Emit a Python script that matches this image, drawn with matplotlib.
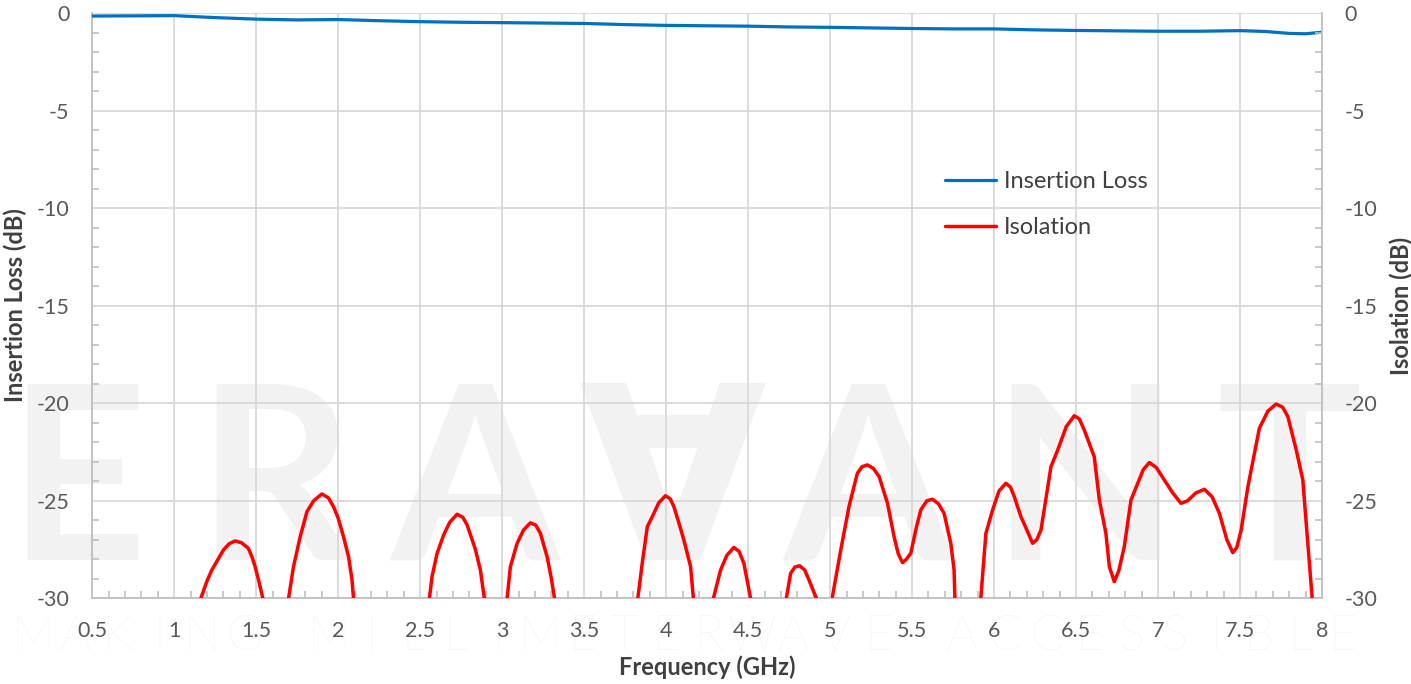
import numpy as np
import matplotlib
matplotlib.use('Agg')
import matplotlib.pyplot as plt
from matplotlib.ticker import MultipleLocator

plt.rcParams['font.family'] = ['Lato', 'DejaVu Sans']
plt.rcParams['axes.unicode_minus'] = False

# Insertion loss (dB) vs frequency (GHz)
il_freq = [0.5, 0.75, 1.0, 1.25, 1.5, 1.75, 2.0, 2.25, 2.5, 2.75, 3.0, 3.25, 3.5,
           3.75, 4.0, 4.25, 4.5, 4.75, 5.0, 5.25, 5.5, 5.75, 6.0, 6.25, 6.5, 6.75,
           7.0, 7.25, 7.5, 7.65, 7.8, 7.9, 8.0]
il_db = [-0.14, -0.13, -0.12, -0.22, -0.30, -0.34, -0.32, -0.38, -0.43, -0.46, -0.48,
         -0.50, -0.52, -0.58, -0.62, -0.64, -0.66, -0.70, -0.72, -0.75, -0.78, -0.80,
         -0.80, -0.85, -0.88, -0.90, -0.92, -0.92, -0.89, -0.93, -1.03, -1.05, -0.97]

# Isolation (dB); NaN = below the -30 dB floor of the chart
iso_freq = [1.162, 1.20, 1.229, 1.26, 1.300, 1.335, 1.371, 1.41, 1.452, 1.475, 1.493, 1.515, 1.540, 1.62,
            1.697, 1.727, 1.768, 1.809, 1.85, 1.900, 1.94, 1.971, 2.00, 2.032, 2.063, 2.084, 2.093, 2.3,
            2.556, 2.572, 2.603, 2.643, 2.68, 2.725, 2.76, 2.786, 2.836, 2.867, 2.891, 2.96,
            3.030, 3.050, 3.091, 3.13, 3.172, 3.205, 3.233, 3.274, 3.30, 3.319, 3.6,
            3.827, 3.854, 3.885, 3.915, 3.955, 3.996, 4.025, 4.047, 4.08, 4.108, 4.149, 4.166, 4.23,
            4.288, 4.332, 4.37, 4.413, 4.445, 4.474, 4.515, 4.62,
            4.733, 4.759, 4.785, 4.814, 4.845, 4.871, 4.916, 4.96,
            5.014, 5.04, 5.065, 5.115, 5.166, 5.195, 5.228, 5.265, 5.299, 5.350, 5.390, 5.415,
            5.441, 5.465, 5.492, 5.525, 5.553, 5.59, 5.624, 5.66, 5.695, 5.736, 5.756, 5.761, 5.84,
            5.919, 5.950, 5.991, 6.03, 6.072, 6.10, 6.123, 6.164, 6.20, 6.235, 6.26, 6.286, 6.347,
            6.388, 6.44, 6.489, 6.52, 6.550, 6.611, 6.642, 6.682, 6.703, 6.733, 6.76, 6.794, 6.835,
            6.876, 6.91, 6.947, 6.99, 7.038, 7.09, 7.140, 7.18, 7.23, 7.283, 7.33, 7.374, 7.42,
            7.456, 7.48, 7.507, 7.548, 7.618, 7.67, 7.720, 7.76, 7.792, 7.843, 7.883, 7.904,
            7.924, 7.940]
iso_db = [-30.0, -29.1, -28.55, -28.1, -27.52, -27.2, -27.06, -27.15, -27.44, -27.9, -28.38, -29.1, -30.0, np.nan,
          -30.0, -28.38, -26.84, -25.56, -25.0, -24.65, -24.85, -25.30, -25.9, -26.84, -27.87, -29.06, -30.0, np.nan,
          -30.0, -28.89, -27.69, -26.75, -26.1, -25.69, -25.85, -26.24, -27.48, -28.55, -30.0, np.nan,
          -30.0, -28.38, -27.18, -26.5, -26.13, -26.25, -26.67, -27.87, -29.0, -30.0, np.nan,
          -30.0, -28.21, -26.33, -25.82, -25.1, -24.74, -24.9, -25.30, -26.2, -27.01, -28.38, -30.0, np.nan,
          -30.0, -28.55, -27.8, -27.39, -27.6, -28.21, -30.0, np.nan,
          -30.0, -28.72, -28.4, -28.33, -28.55, -29.06, -30.0, np.nan,
          -29.92, -28.7, -27.52, -25.30, -23.59, -23.25, -23.16, -23.35, -23.76, -25.13, -26.84, -27.7,
          -28.17, -28.0, -27.69, -26.4, -25.47, -25.0, -24.92, -25.15, -25.64, -27.18, -28.55, -30.0, np.nan,
          -30.0, -26.67, -25.47, -24.5, -24.10, -24.3, -24.78, -25.82, -26.5, -27.18, -27.0, -26.50, -23.25,
          -22.40, -21.2, -20.64, -20.8, -21.37, -22.74, -24.96, -26.67, -28.38, -29.15, -28.6, -27.36, -24.96,
          -24.10, -23.4, -23.04, -23.3, -23.93, -24.6, -25.13, -25.0, -24.6, -24.41, -24.8, -25.64, -27.0,
          -27.66, -27.4, -26.50, -24.28, -21.28, -20.4, -20.04, -20.2, -20.69, -22.40, -23.93, -26.15,
          -28.21, -30.0]

W, H = 1411, 684
fig = plt.figure(figsize=(W / 100, H / 100), dpi=100)
fig.patch.set_facecolor('white')

# watermark
wm_big = ['E', 'R', 'A', '\u2200', 'A', 'N', 'T']
wm_big_x = [77, 275, 475, 673, 868, 1085, 1289]
for ch, x in zip(wm_big, wm_big_x):
    fig.text(x / W, 1 - 560 / H, ch, ha='center', va='baseline', fontsize=175,
             fontweight='bold', color='#f2f2f2', zorder=-2)
wm_small = 'MAKING MILLIMETERWAVE ACCESSIBLE'
pitch = (1343 - 33) / (len(wm_small) - 1)
for i, ch in enumerate(wm_small):
    if ch == ' ':
        continue
    fig.text((33 + i * pitch) / W, 1 - 650 / H, ch, ha='center', va='baseline',
             fontsize=35, fontweight='light', color='#f0f0f0', zorder=-2)

ax = fig.add_axes([92.3 / W, 1 - 598.3 / H, (1322 - 92.3) / W, (598.3 - 13.3) / H])
ax.set_facecolor('none')
ax2 = ax.twinx()

grid_c = '#d9d9d9'
spine_c = '#bfbfbf'
text_c = '#595959'
label_c = '#404040'

l1, = ax.plot(il_freq, il_db, color='#0070c0', lw=2.3, solid_capstyle='round', zorder=3)
l2, = ax2.plot(iso_freq, iso_db, color='#ff0000', lw=2.5, solid_capstyle='round', zorder=3)

for a in (ax, ax2):
    a.set_xlim(0.5, 8)
    a.set_ylim(-30, 0)
    a.yaxis.set_major_locator(MultipleLocator(5))
    a.yaxis.set_minor_locator(MultipleLocator(1))
    for s in a.spines.values():
        s.set_visible(False)

ax.xaxis.set_minor_locator(MultipleLocator(0.1))
ax.set_xticks([0.5, 1, 1.5, 2, 2.5, 3, 3.5, 4, 4.5, 5, 5.5, 6, 6.5, 7, 7.5, 8])
ax.set_xticklabels(['0.5', '1', '1.5', '2', '2.5', '3', '3.5', '4', '4.5', '5', '5.5',
                    '6', '6.5', '7', '7.5', '8'])
ax.grid(True, which='major', color=grid_c, lw=1.3, zorder=0)
ax.set_axisbelow(True)

ax.spines['left'].set_visible(True)
ax.spines['bottom'].set_visible(True)
ax2.spines['right'].set_visible(True)
for s in (ax.spines['left'], ax.spines['bottom'], ax2.spines['right']):
    s.set_color(spine_c)
    s.set_linewidth(1.3)

ax.tick_params(axis='both', which='major', length=0, labelsize=15.5, labelcolor=text_c)
ax.tick_params(axis='y', which='major', pad=16.5)
ax.tick_params(axis='x', which='major', pad=16)
ax.tick_params(axis='both', which='minor', direction='in', length=5, width=1.2, color=spine_c)
ax2.tick_params(axis='y', which='major', length=0, labelsize=15.5, labelcolor=text_c, pad=16)
ax2.tick_params(axis='y', which='minor', direction='in', length=5, width=1.2, color=spine_c)

fig.text(707 / W, 1 - 667 / H, 'Frequency (GHz)', ha='center', va='center',
         fontsize=17, fontweight='bold', color=label_c)
fig.text(15 / W, 1 - 305 / H, 'Insertion Loss (dB)', ha='center', va='center', rotation=90,
         fontsize=17, fontweight='bold', color=label_c)
fig.text(1401 / W, 1 - 306 / H, 'Isolation (dB)', ha='center', va='center', rotation=90,
         fontsize=17, fontweight='bold', color=label_c)

ax2.legend(handles=[l1, l2], labels=['Insertion Loss', 'Isolation'], loc='upper left',
           bbox_to_anchor=((945 - 92.3) / 1229.7, (598.3 - 171) / 585), frameon=False,
           fontsize=17, labelcolor=label_c, handlelength=2.15, handletextpad=0.35,
           labelspacing=1.05, borderpad=0, borderaxespad=0)

fig.savefig('out.png', dpi=100, facecolor='white')
